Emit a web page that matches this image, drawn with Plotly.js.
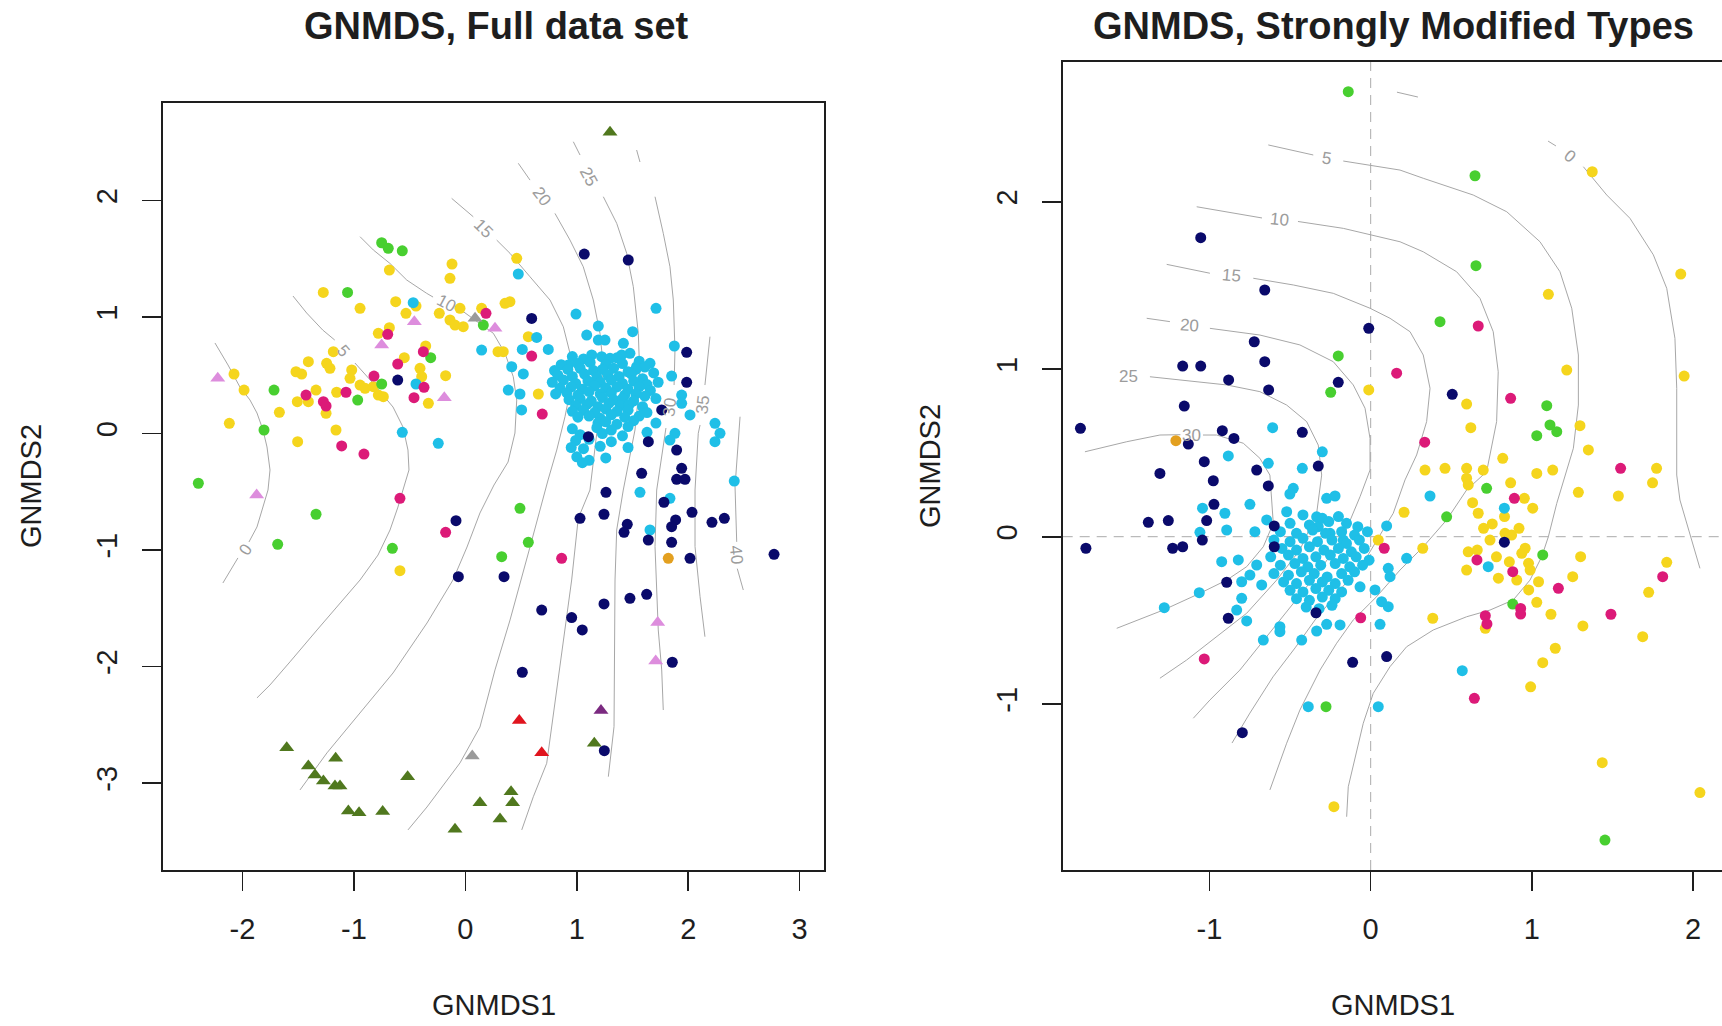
<!DOCTYPE html>
<html>
<head>
<meta charset="utf-8">
<script src="https://cdn.plot.ly/plotly-3.0.1.min.js"></script>
<style>
  html, body { margin: 0; padding: 0; overflow: hidden; background: #ffffff; }
  #chart { width: 1730px; height: 1026px; }
</style>
</head>
<body>
<div id="chart"></div>
<script>
// ---------- Panel 1: GNMDS, full data set (site scores as [GNMDS1, GNMDS2]) ----------
const fullYellow = [[-0.120,1.454],[-0.138,1.332],[-0.682,1.403],[-1.275,1.211],[-0.945,1.074],[-0.625,1.131],[-0.533,1.031],[-0.443,1.094],[-0.234,1.031],[-0.138,0.974],[-0.093,0.931],[-0.019,0.917],[-0.048,1.074],[0.146,1.074],[-0.781,0.860],[-0.682,0.908],[-1.185,0.702],[-0.548,0.651],[-0.356,0.751],[-1.409,0.616],[-1.245,0.602],[-1.215,0.559],[-1.520,0.530],[-1.469,0.510],[-1.020,0.545],[-1.035,0.474],[-0.945,0.416],[-0.900,0.388],[-0.826,0.402],[-0.781,0.330],[-0.736,0.316],[-0.407,0.559],[-0.392,0.487],[-0.177,0.496],[-0.332,0.259],[-1.340,0.373],[-1.155,0.354],[-2.076,0.510],[-1.986,0.373],[-1.508,0.273],[-1.409,0.273],[-1.669,0.182],[-1.250,0.173],[-2.118,0.087],[-1.161,0.030],[-1.505,-0.070],[0.293,0.702],[0.461,1.503],[0.356,1.117],[0.400,1.131],[0.565,0.831],[0.340,0.702],[0.655,0.339],[-0.587,-1.177]];
const fullGreen = [[-0.751,1.637],[-0.692,1.589],[-0.566,1.568],[-1.057,1.211],[0.161,0.931],[-0.311,0.651],[-0.751,0.425],[-1.717,0.373],[-0.966,0.287],[-1.807,0.030],[-2.396,-0.427],[-1.340,-0.693],[-1.684,-0.951],[-0.655,-0.985],[0.490,-0.642],[0.565,-0.934],[0.326,-1.057]];
const fullMagenta = [[0.185,1.031],[-0.697,0.851],[-0.377,0.702],[-0.607,0.596],[-0.820,0.493],[-0.371,0.396],[-0.461,0.307],[-1.430,0.330],[-1.071,0.354],[-1.274,0.273],[-1.250,0.236],[-1.110,-0.107],[-0.910,-0.176],[0.595,0.665],[0.690,0.167],[-0.587,-0.556],[-0.177,-0.848],[0.864,-1.071]];
const fullNavy = [[-0.607,0.459],[1.067,1.540],[1.462,1.489],[0.595,0.988],[1.986,0.697],[1.986,0.439],[1.762,0.202],[1.104,-0.027],[1.642,-0.070],[1.896,-0.142],[1.941,-0.299],[1.896,-0.393],[1.971,-0.393],[1.582,-0.342],[1.262,-0.505],[1.782,-0.590],[1.029,-0.728],[1.244,-0.693],[1.453,-0.779],[1.424,-0.848],[1.642,-0.914],[1.887,-0.742],[1.851,-0.800],[1.851,-0.934],[2.034,-0.676],[2.213,-0.762],[2.324,-0.728],[2.016,-1.071],[2.770,-1.037],[0.347,-1.229],[0.685,-1.515],[0.954,-1.580],[1.049,-1.686],[1.244,-1.463],[1.477,-1.414],[1.627,-1.380],[1.857,-1.963],[0.511,-2.049],[1.247,-2.722],[-0.084,-0.748],[-0.063,-1.229]];
const fullOrange = [[1.821,-1.071]];
const fullCyan = [[-0.468,1.123],[-0.443,0.425],[0.146,0.716],[-0.566,0.010],[-0.243,-0.084],[0.475,1.369],[1.711,1.074],[0.993,1.025],[0.640,0.825],[0.511,0.722],[0.744,0.722],[0.416,0.573],[0.385,0.373],[0.490,0.339],[0.520,0.511],[0.505,0.202],[2.413,-0.408],[2.240,0.087],[2.285,0.002],[2.240,-0.070],[1.875,0.751],[1.851,0.493],[1.657,0.602],[1.501,0.874],[1.193,0.922],[1.089,0.845],[1.193,0.802],[1.253,0.802],[1.418,0.774],[1.477,0.688],[1.403,0.674],[1.134,0.674],[1.223,0.659],[1.298,0.645],[0.924,0.588],[1.537,0.573],[1.941,0.330],[1.941,0.259],[2.016,0.159],[1.881,0.002],[1.836,-0.056],[1.567,-0.505],[1.836,-0.556],[1.657,-0.828],
  [0.96,0.66],[1.06,0.64],[1.36,0.65],[1.56,0.62],
  [0.86,0.59],[1.01,0.60],[1.12,0.61],[1.26,0.59],[1.41,0.60],[1.61,0.57],
  [0.80,0.54],[0.92,0.55],[1.03,0.56],[1.15,0.54],[1.23,0.55],[1.33,0.56],[1.46,0.53],[1.53,0.55],[1.69,0.52],
  [0.83,0.50],[0.96,0.49],[1.07,0.51],[1.18,0.48],[1.28,0.50],[1.38,0.49],[1.49,0.51],[1.59,0.47],
  [0.78,0.44],[0.88,0.46],[0.99,0.43],[1.10,0.45],[1.21,0.44],[1.31,0.46],[1.41,0.43],[1.51,0.45],[1.63,0.42],[1.73,0.44],
  [0.85,0.39],[0.95,0.40],[1.05,0.38],[1.16,0.41],[1.26,0.39],[1.36,0.40],[1.46,0.38],[1.56,0.40],[1.66,0.37],
  [0.81,0.34],[0.91,0.35],[1.01,0.33],[1.11,0.36],[1.21,0.34],[1.31,0.35],[1.43,0.33],[1.53,0.34],[1.61,0.32],
  [0.93,0.29],[1.03,0.30],[1.13,0.28],[1.23,0.31],[1.33,0.29],[1.41,0.30],[1.51,0.28],[1.71,0.30],
  [0.99,0.24],[1.09,0.25],[1.19,0.23],[1.29,0.26],[1.39,0.24],[1.47,0.25],[1.59,0.23],
  [0.96,0.19],[1.06,0.20],[1.16,0.18],[1.26,0.21],[1.36,0.19],[1.46,0.20],[1.63,0.18],
  [1.01,0.14],[1.11,0.15],[1.21,0.13],[1.31,0.16],[1.43,0.14],[1.56,0.15],
  [1.19,0.09],[1.26,0.10],[1.36,0.08],[1.51,0.11],[1.71,0.09],
  [0.96,0.04],[1.18,0.05],[1.31,0.03],[1.46,0.06],
  [1.03,-0.01],[1.23,0.00],[1.41,-0.02],[1.63,0.01],
  [0.99,-0.06],[1.11,-0.05],[1.31,-0.07],[0.95,-0.12],
  [1.06,-0.13],[1.21,-0.11],[1.46,-0.12],[1.00,-0.20],
  [1.26,-0.21],[1.11,-0.23],[1.05,-0.25]];
const fullViolet = [[-2.222,0.474],[-0.458,0.959],[-0.751,0.759],[-0.189,0.307],[0.266,0.903],[-1.873,-0.528],[1.726,-1.623],[1.708,-1.952]];
const fullGrey = [[0.087,0.989],[0.062,-2.767]];
const fullOlive = [[1.298,2.585],[1.157,-2.659],[0.410,-3.074],[0.424,-3.168],[0.311,-3.308],[-1.603,-2.696],[-1.409,-2.853],[-1.349,-2.930],[-1.274,-2.982],[-1.170,-3.025],[-1.125,-3.025],[-1.164,-2.787],[-1.050,-3.239],[-0.954,-3.254],[-0.742,-3.245],[-0.518,-2.945],[-0.093,-3.396],[0.131,-3.168]];
const fullRed = [[0.484,-2.464],[0.685,-2.739]];
const fullPurple = [[1.217,-2.378]];

// fitted surface isolines (null = gap left for the level label)
const fullIso0  = [[-2.247,0.777],[-2.130,0.588],[-2.023,0.399],[-1.933,0.288],[-1.870,0.176],[-1.816,0.030],[-1.780,-0.116],[-1.753,-0.313],[-1.771,-0.485],[-1.816,-0.631],[-1.870,-0.802],[-1.942,-0.931],null,[-2.041,-1.068],[-2.176,-1.283]];
const fullIso5  = [[-1.547,1.180],[-1.424,1.034],[-1.280,0.888],[-1.172,0.802],null,[-0.991,0.605],[-0.829,0.433],[-0.649,0.227],[-0.560,0.056],[-0.515,-0.142],[-0.506,-0.313],[-0.560,-0.485],[-0.605,-0.631],[-0.676,-0.828],[-0.784,-1.043],[-0.945,-1.257],[-1.125,-1.454],[-1.331,-1.686],[-1.574,-1.960],[-1.753,-2.158],[-1.870,-2.269]];
const fullIso10 = [[-0.945,1.689],[-0.826,1.575],[-0.677,1.460],[-0.526,1.317],[-0.347,1.203],[-0.290,1.171],null,[-0.039,1.060],[0.042,1.002],[0.251,0.860],[0.356,0.688],[0.430,0.487],[0.461,0.287],[0.445,0.004],[0.383,-0.245],[0.257,-0.442],[0.131,-0.682],[0.015,-0.974],[-0.111,-1.257],[-0.344,-1.626],[-0.649,-2.055],[-0.945,-2.398],[-1.242,-2.741],[-1.484,-3.059]];
const fullIso15 = [[-0.123,2.018],[0.071,1.860],null,[0.281,1.660],[0.401,1.546],[0.580,1.345],[0.760,1.145],[0.879,0.916],[0.939,0.688],[0.954,0.431],[0.894,0.144],[0.820,-0.142],[0.742,-0.399],[0.580,-0.974],[0.401,-1.600],[0.266,-2.029],[0.131,-2.519],[-0.048,-2.827],[-0.344,-3.205],[-0.515,-3.402]];
const fullIso20 = [[0.475,2.319],[0.580,2.175],null,[0.804,1.889],[0.939,1.660],[1.058,1.431],[1.148,1.146],[1.208,0.860],[1.238,0.573],[1.223,0.287],[1.179,0.002],[1.118,-0.485],[1.013,-0.728],[0.954,-1.257],[0.894,-1.686],[0.820,-2.229],[0.730,-2.830],[0.610,-3.117],[0.506,-3.402]];
const fullIso25 = [[0.969,2.504],[1.029,2.390],null,[1.238,2.032],[1.358,1.804],[1.448,1.546],[1.507,1.260],[1.552,0.860],[1.567,0.459],[1.522,0.030],[1.417,-0.485],[1.358,-0.828],[1.343,-1.257],[1.334,-2.516],[1.283,-2.945]];
const fullIso30 = [[1.537,2.433],[1.567,2.330],null,[1.702,2.032],[1.776,1.718],[1.836,1.431],[1.866,1.146],[1.881,0.716],[1.873,0.416],null,[1.800,0.047],[1.717,-0.485],[1.702,-0.971],[1.731,-1.686],[1.762,-2.029],[1.776,-2.373]];
const fullIso35 = [[2.195,0.831],[2.166,0.573],[2.150,0.416],null,[2.106,0.073],[2.090,0.002],[2.061,-0.485],[2.061,-0.971],[2.106,-1.400],[2.150,-1.744]];
const fullIso40 = [[2.465,0.144],[2.435,-0.285],[2.420,-0.456],[2.435,-0.930],null,[2.440,-1.160],[2.494,-1.343]];
const fullIsoLabels = [['0',-1.977,-1.000,-55],['5',-1.098,0.716,49],['10',-0.167,1.117,28],['15',0.161,1.761,45],['20',0.685,2.032,53],['25',1.103,2.204,62],['30',1.836,0.230,-84],['35',2.135,0.245,-83],['40',2.435,-1.043,84]];

// ---------- Panel 2: GNMDS, strongly modified types ----------
const modNavy = [[-1.054,1.785],[-0.657,1.473],[-0.012,1.244],[-0.722,1.164],[-0.657,1.045],[-1.166,1.019],[-1.054,1.019],[-0.881,0.936],[-0.633,0.876],[-0.201,0.922],[-1.156,0.780],[-1.800,0.647],[-1.131,0.553],[-0.920,0.633],[-0.848,0.587],[-0.424,0.623],[-1.032,0.448],[-0.707,0.398],[-0.325,0.422],[-1.307,0.378],[-0.976,0.334],[-0.635,0.303],[-0.972,0.193],[-1.379,0.086],[-1.255,0.096],[-1.017,0.096],[-1.044,-0.020],[-1.766,-0.069],[-1.228,-0.069],[-1.166,-0.060],[-0.598,0.064],[-0.598,-0.060],[-0.893,-0.272],[-0.883,-0.487],[-0.339,-0.454],[-0.112,-0.750],[0.099,-0.716],[-0.796,-1.170],[0.506,0.850],[0.829,-0.033]];
const modGreen = [[-0.139,2.657],[-0.201,1.079],[-0.248,0.862],[0.647,2.155],[0.653,1.618],[0.430,1.284],[1.092,0.782],[1.112,0.667],[1.154,0.627],[1.030,0.603],[0.719,0.289],[0.471,0.119],[1.067,-0.109],[0.881,-0.402],[-0.277,-1.015],[1.453,-1.811]];
const modMagenta = [[0.161,0.976],[0.667,1.258],[0.868,0.826],[0.335,0.564],[1.550,0.408],[0.891,0.229],[0.659,-0.139],[0.881,-0.209],[0.930,-0.428],[0.930,-0.462],[0.711,-0.472],[0.721,-0.521],[1.164,-0.308],[1.490,-0.463],[0.643,-0.965],[1.811,-0.239],[-1.032,-0.730],[-0.062,-0.484],[0.084,-0.069]];
const modYellow = [[-0.012,0.876],[1.374,2.179],[1.102,1.447],[1.923,1.568],[1.944,0.959],[1.216,0.995],[0.595,0.792],[0.621,0.651],[1.298,0.663],[1.350,0.518],[0.819,0.468],[0.337,0.398],[0.461,0.408],[0.595,0.408],[0.698,0.398],[1.773,0.408],[1.030,0.378],[1.129,0.398],[0.595,0.349],[0.605,0.309],[1.748,0.322],[1.288,0.265],[1.536,0.243],[0.207,0.146],[0.868,0.322],[0.953,0.229],[1.005,0.170],[0.632,0.203],[0.667,0.140],[0.754,0.076],[0.833,0.020],[0.874,0.010],[0.740,-0.020],[0.323,-0.069],[0.605,-0.090],[0.661,-0.080],[0.595,-0.199],[0.792,-0.248],[0.906,-0.259],[0.937,-0.099],[0.958,-0.069],[0.979,-0.159],[0.989,-0.199],[1.041,-0.269],[0.980,-0.318],[1.030,-0.392],[0.711,-0.547],[0.385,-0.487],[1.253,-0.239],[1.302,-0.119],[1.118,-0.463],[1.316,-0.533],[1.145,-0.666],[1.067,-0.752],[0.992,-0.896],[1.836,-0.153],[1.724,-0.332],[1.687,-0.597],[1.436,-1.349],[2.042,-1.528],[0.047,-0.020],[-0.228,-1.612],[0.70,0.05],[0.78,-0.12],[0.86,-0.15],[0.83,0.12],[0.92,0.05]];
const modOrange = [[-1.208,0.573]];
const modCyan = [[-0.608,0.651],[-0.300,0.507],[-0.883,0.482],[-0.635,0.438],[-0.424,0.408],[-1.280,-0.424],[-1.063,-0.334],[-1.043,0.170],[-1.059,0.026],[-0.387,-1.015],[0.047,-1.015],[0.368,0.243],[0.829,0.170],[0.223,-0.129],[0.729,-0.179],[0.568,-0.800],
  [-0.904,0.140],[-0.893,0.040],[-0.749,0.193],[-0.718,0.030],[-0.480,0.289],[-0.501,0.255],[-0.273,0.229],[-0.221,0.243],[-0.521,0.149],[-0.645,0.100],[-0.335,0.119],[-0.325,0.060],[-0.252,0.020],[-0.170,-0.020],[-0.924,-0.149],[-0.821,-0.139],[-0.707,-0.169],[-0.800,-0.269],[-0.749,-0.229],[-0.676,-0.288],[-0.800,-0.368],[-0.831,-0.438],[-0.769,-0.503],[-0.666,-0.617],[-0.563,-0.537],[-0.563,-0.567],[-0.428,-0.617],[-0.335,-0.563],[-0.273,-0.523],[-0.190,-0.527],[-0.066,-0.299],[0.058,-0.523],[0.027,-0.318],[0.068,-0.388],[0.109,-0.418],[0.099,0.064],[0.109,-0.189],[0.120,-0.239],
  [-0.42,0.13],[-0.30,0.11],[-0.20,0.12],
  [-0.50,0.08],[-0.38,0.07],[-0.26,0.09],[-0.15,0.08],[-0.08,0.06],
  [-0.56,0.03],[-0.46,0.02],[-0.36,0.04],[-0.28,0.02],[-0.18,0.03],[-0.10,0.01],[-0.02,0.03],
  [-0.60,-0.02],[-0.50,-0.03],[-0.42,-0.01],[-0.33,-0.03],[-0.24,-0.02],[-0.15,-0.04],[-0.07,-0.02],
  [-0.55,-0.07],[-0.46,-0.08],[-0.38,-0.06],[-0.29,-0.08],[-0.20,-0.07],[-0.12,-0.09],[-0.04,-0.07],
  [-0.62,-0.12],[-0.51,-0.11],[-0.42,-0.13],[-0.34,-0.12],[-0.25,-0.11],[-0.17,-0.13],[-0.09,-0.12],[-0.01,-0.14],
  [-0.56,-0.17],[-0.47,-0.16],[-0.39,-0.18],[-0.31,-0.17],[-0.22,-0.16],[-0.13,-0.18],[-0.05,-0.17],
  [-0.60,-0.22],[-0.51,-0.23],[-0.43,-0.21],[-0.35,-0.22],[-0.27,-0.24],[-0.18,-0.22],[-0.10,-0.21],
  [-0.54,-0.27],[-0.46,-0.28],[-0.38,-0.26],[-0.30,-0.27],[-0.22,-0.28],[-0.14,-0.26],
  [-0.50,-0.32],[-0.42,-0.33],[-0.34,-0.31],[-0.26,-0.32],[-0.18,-0.33],
  [-0.46,-0.37],[-0.38,-0.38],[-0.30,-0.36],[-0.22,-0.37],
  [-0.40,-0.42],[-0.32,-0.43],[-0.24,-0.41]];

const modIso0  = [[0.163,2.654],[0.293,2.625],null,[1.100,2.362],[1.149,2.333],null,[1.319,2.209],[1.464,2.040],[1.608,1.901],[1.753,1.683],[1.836,1.483],[1.887,1.184],[1.898,0.886],[1.898,0.368],[1.918,0.219],[1.980,0.020],[2.042,-0.189]];
const modIso5  = [[-0.635,2.339],[-0.356,2.279],null,[-0.170,2.243],[-0.004,2.219],[0.182,2.189],[0.326,2.140],[0.636,2.040],[0.844,1.940],[1.050,1.761],[1.174,1.582],[1.247,1.364],[1.288,1.085],[1.288,0.786],[1.257,0.528],[1.216,0.398],[1.154,0.199],[1.102,0.000],[1.061,-0.119],[0.988,-0.259],[0.884,-0.378],[0.740,-0.438],[0.595,-0.478],[0.388,-0.557],[0.223,-0.657],[0.120,-0.776],[0.016,-0.935],[-0.046,-1.114],[-0.097,-1.313],[-0.139,-1.493],[-0.149,-1.672]];
const modIso10 = [[-1.079,1.970],[-0.674,1.903],null,[-0.451,1.882],[-0.170,1.841],[0.182,1.761],[0.326,1.701],[0.533,1.582],[0.678,1.423],[0.760,1.224],[0.791,0.985],[0.781,0.687],[0.719,0.388],[0.595,0.279],[0.471,0.100],[0.326,-0.060],[0.182,-0.199],[0.037,-0.358],[-0.108,-0.497],[-0.211,-0.636],[-0.314,-0.796],[-0.439,-1.035],[-0.521,-1.233],[-0.625,-1.512]];
const modIso15 = [[-1.265,1.626],[-0.997,1.573],null,[-0.728,1.543],[-0.480,1.503],[-0.232,1.453],[-0.004,1.364],[0.120,1.304],[0.244,1.224],[0.326,1.085],[0.368,0.886],[0.347,0.687],[0.285,0.488],[0.213,0.339],[0.140,0.140],[0.058,0.010],[-0.035,-0.139],[-0.190,-0.318],[-0.345,-0.497],[-0.469,-0.664],[-0.606,-0.837],[-0.749,-1.053],[-0.860,-1.232]];
const modIso20 = [[-1.389,1.304],[-1.245,1.284],null,[-0.997,1.244],[-0.687,1.204],[-0.439,1.145],[-0.232,1.045],[-0.108,0.906],[-0.035,0.767],[-0.004,0.587],[-0.004,0.398],[-0.066,0.239],[-0.170,0.000],[-0.314,-0.199],[-0.480,-0.398],[-0.645,-0.597],[-0.811,-0.796],[-0.997,-0.975],[-1.100,-1.084]];
const modIso25 = [[-1.369,0.955],[-1.100,0.925],[-0.893,0.906],[-0.687,0.866],[-0.521,0.786],[-0.397,0.687],[-0.325,0.547],[-0.304,0.368],[-0.335,0.140],[-0.439,-0.079],[-0.583,-0.259],[-0.769,-0.457],[-0.955,-0.597],[-1.141,-0.736],[-1.307,-0.845]];
const modIso30 = [[-1.772,0.507],[-1.513,0.567],[-1.307,0.607],[-1.180,0.609],null,[-1.040,0.607],[-0.955,0.607],[-0.790,0.558],[-0.687,0.468],[-0.625,0.368],[-0.604,0.080],[-0.666,-0.060],[-0.769,-0.179],[-0.893,-0.259],[-1.059,-0.338],[-1.286,-0.438],[-1.575,-0.547]];
const modIsoLabels = [['0',1.236,2.269,38],['5',-0.273,2.259,8],['10',-0.563,1.891,6],['15',-0.862,1.562,5],['20',-1.121,1.260,4],['25',-1.503,0.955,0],['30',-1.110,0.607,0]];

const tickValsFull1 = [-2, -1, 0, 1, 2, 3];
const tickValsFull2 = [-3, -2, -1, 0, 1, 2];
const tickValsMod1 = [-1, 0, 1, 2];
const tickValsMod2 = [-1, 0, 1, 2];

// ---------- drawing ----------
const FONT = 'Liberation Sans, Arial, Helvetica, sans-serif';
const INK = '#1e1e1e';
const ISO_COLOUR = '#a7a7a7';

const px = pts => pts.map(p => (p ? p[0] : null));
const py = pts => pts.map(p => (p ? p[1] : null));
const label = v => String(v);   // plain hyphen-minus as in R

function isoTrace(pts, xa, ya) {
  return { type: 'scatter', mode: 'lines', x: px(pts), y: py(pts), xaxis: xa, yaxis: ya,
           connectgaps: false, line: { color: ISO_COLOUR, width: 1 }, hoverinfo: 'skip', showlegend: false };
}
function pointTrace(pts, colour, symbol, size, xa, ya) {
  return { type: 'scatter', mode: 'markers', x: px(pts), y: py(pts), xaxis: xa, yaxis: ya,
           marker: { color: colour, symbol: symbol, size: size, line: { width: 0 } },
           hoverinfo: 'x+y', showlegend: false };
}

const traces = [];
[fullIso0, fullIso5, fullIso10, fullIso15, fullIso20, fullIso25, fullIso30, fullIso35, fullIso40]
  .forEach(p => traces.push(isoTrace(p, 'x', 'y')));
[modIso0, modIso5, modIso10, modIso15, modIso20, modIso25, modIso30]
  .forEach(p => traces.push(isoTrace(p, 'x2', 'y2')));

const DOT = 11, TRI = 13;
traces.push(
  pointTrace(fullYellow, '#f5d51d', 'circle', DOT, 'x', 'y'),
  pointTrace(fullGreen, '#48cf30', 'circle', DOT, 'x', 'y'),
  pointTrace(fullCyan, '#1fbfe7', 'circle', DOT, 'x', 'y'),
  pointTrace(fullMagenta, '#dc1a78', 'circle', DOT, 'x', 'y'),
  pointTrace(fullNavy, '#0a0a6b', 'circle', DOT, 'x', 'y'),
  pointTrace(fullOrange, '#e3a020', 'circle', DOT, 'x', 'y'),
  pointTrace(fullViolet, '#dd8ddd', 'triangle-up', TRI, 'x', 'y'),
  pointTrace(fullGrey, '#9a9a9a', 'triangle-up', TRI, 'x', 'y'),
  pointTrace(fullOlive, '#50781e', 'triangle-up', TRI, 'x', 'y'),
  pointTrace(fullRed, '#e0141e', 'triangle-up', TRI, 'x', 'y'),
  pointTrace(fullPurple, '#7b2a80', 'triangle-up', TRI, 'x', 'y'),

  pointTrace(modYellow, '#f5d51d', 'circle', DOT, 'x2', 'y2'),
  pointTrace(modGreen, '#48cf30', 'circle', DOT, 'x2', 'y2'),
  pointTrace(modCyan, '#1fbfe7', 'circle', DOT, 'x2', 'y2'),
  pointTrace(modMagenta, '#dc1a78', 'circle', DOT, 'x2', 'y2'),
  pointTrace(modNavy, '#0a0a6b', 'circle', DOT, 'x2', 'y2'),
  pointTrace(modOrange, '#e3a020', 'circle', DOT, 'x2', 'y2')
);

function axis(domain, range, tickvals, anchor, extra) {
  return Object.assign({
    domain: domain, range: range, anchor: anchor, fixedrange: true,
    tickmode: 'array', tickvals: tickvals, ticktext: tickvals.map(label),
    showgrid: false, zeroline: false,
    showline: true, mirror: true, linecolor: INK, linewidth: 1.6,
    ticks: 'outside', ticklen: 19, tickwidth: 1.6, tickcolor: INK,
    tickfont: { family: FONT, size: 29, color: INK }, ticklabelstandoff: 14
  }, extra || {});
}

const W = 1730, H = 1026;
const fx = v => v / W, fy = v => 1 - v / H;

const annotations = [];
function text(t, x, y, size, angle, extra) {
  annotations.push(Object.assign({ text: t, xref: 'paper', yref: 'paper', x: x, y: y,
    xanchor: 'center', yanchor: 'middle', showarrow: false, textangle: angle || 0,
    font: { family: FONT, size: size, color: INK } }, extra || {}));
}
text('<b>GNMDS, Full data set</b>', fx(496), fy(26), 38);
text('<b>GNMDS, Strongly Modified Types</b>', fx(1393), fy(26), 38);
text('GNMDS1', fx(493.5), fy(1005), 29);
text('GNMDS1', fx(1392.5), fy(1005), 29);
text('GNMDS2', fx(31), fy(486), 29, -90);
text('GNMDS2', fx(930), fy(466), 29, -90);

function isoLabels(list, xa, ya) {
  list.forEach(([t, x, y, a]) => annotations.push({
    text: t, xref: xa, yref: ya, x: x, y: y, xanchor: 'center', yanchor: 'middle',
    showarrow: false, textangle: a, font: { family: FONT, size: 17, color: '#9c9c9c' }
  }));
}
isoLabels(fullIsoLabels, 'x', 'y');
isoLabels(modIsoLabels, 'x2', 'y2');

const layout = {
  width: W, height: H,
  margin: { l: 0, r: 0, t: 0, b: 0, pad: 0 },
  paper_bgcolor: '#ffffff', plot_bgcolor: '#ffffff',
  showlegend: false,
  xaxis:  axis([fx(162.7), fx(824.3)], [-2.716, 3.221], tickValsFull1, 'y'),
  yaxis:  axis([fy(870), fy(102.7)], [-3.746, 2.839], tickValsFull2, 'x', { tickangle: -90 }),
  xaxis2: axis([fx(1062.7), fx(1723)], [-1.910, 2.185], tickValsMod1, 'y2'),
  yaxis2: axis([fy(870), fy(61.7)], [-1.990, 2.836], tickValsMod2, 'x2', { tickangle: -90 }),
  shapes: [
    { type: 'line', xref: 'x2', yref: 'y2 domain', x0: 0, x1: 0, y0: 0, y1: 1, layer: 'below',
      line: { color: '#ababab', width: 1, dash: '10px,7px' } },
    { type: 'line', xref: 'x2 domain', yref: 'y2', x0: 0, x1: 1, y0: 0, y1: 0, layer: 'below',
      line: { color: '#ababab', width: 1, dash: '10px,7px' } }
  ],
  annotations: annotations
};

Plotly.newPlot('chart', traces, layout, { staticPlot: true, displayModeBar: false });
</script>
</body>
</html>
